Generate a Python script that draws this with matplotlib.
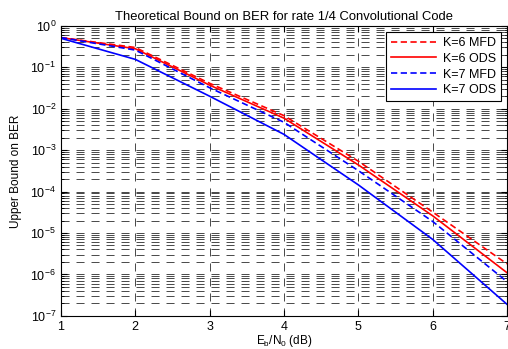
import matplotlib
matplotlib.use('Agg')
import matplotlib.pyplot as plt
from matplotlib.ticker import LogLocator, NullFormatter

# Eb/N0 (dB)
ebno = [1, 2, 3, 4, 5, 6, 7]

# upper bound on BER
k6_mfd = [0.52, 0.30, 0.041, 0.0068, 5.4e-4, 3.2e-5, 1.8e-6]
k6_ods = [0.52, 0.28, 0.037, 0.0059, 4.4e-4, 2.6e-5, 1.1e-6]
k7_mfd = [0.52, 0.26, 0.032, 0.0047, 3.2e-4, 1.9e-5, 6.7e-7]
k7_ods = [0.50, 0.155, 0.020, 0.0024, 1.45e-4, 7.0e-6, 1.9e-7]

plt.rcParams['font.family'] = ['Liberation Sans', 'DejaVu Sans']
plt.rcParams['mathtext.fontset'] = 'custom'
plt.rcParams['mathtext.rm'] = 'Liberation Sans'
plt.rcParams['mathtext.it'] = 'Liberation Sans'
plt.rcParams['lines.scale_dashes'] = False

fig = plt.figure(figsize=(5.08, 3.49), dpi=100)
ax = fig.add_axes([0.120, 0.095, 0.878, 0.831])

ax.semilogy(ebno, k6_mfd, color='red', ls=(0, (4.5, 2.5)), lw=1.2, label='K=6 MFD')
ax.semilogy(ebno, k6_ods, color='red', ls='-', lw=1.2, label='K=6 ODS')
ax.semilogy(ebno, k7_mfd, color='blue', ls=(0, (4.5, 2.5)), lw=1.2, label='K=7 MFD')
ax.semilogy(ebno, k7_ods, color='blue', ls='-', lw=1.2, label='K=7 ODS')

ax.set_xlim(1, 7)
ax.set_ylim(1e-7, 1)
ax.set_xticks(ebno)
ax.yaxis.set_major_locator(LogLocator(base=10, numticks=10))
ax.yaxis.set_minor_locator(LogLocator(base=10, subs=range(2, 10), numticks=10))
ax.yaxis.set_minor_formatter(NullFormatter())

# matlab-style grid
gstyle = dict(color='black', lw=0.5, ls=(0, (5.8, 5)))
ax.grid(True, which='major', **gstyle)
ax.grid(True, which='minor', axis='y', **gstyle)

ax.tick_params(which='both', direction='in', top=True, right=True, labelsize=9)
ax.tick_params(which='major', length=4)
ax.tick_params(which='minor', length=2)
for s in ax.spines.values():
    s.set_linewidth(0.8)

ax.set_title('Theoretical Bound on BER for rate 1/4 Convolutional Code', fontsize=9.4, pad=4)
ax.set_xlabel(r'E$_\mathrm{b}$/N$_\mathrm{0}$ (dB)', fontsize=8.5, labelpad=0.5)
ax.set_ylabel('Upper Bound on BER', fontsize=8.5, labelpad=6)

leg = ax.legend(loc='upper right', fontsize=9, fancybox=False, framealpha=1,
                edgecolor='black', handlelength=3.6, borderaxespad=0.5,
                labelspacing=0.3, handletextpad=0.5, borderpad=0.4)
leg.get_frame().set_linewidth(0.8)

plt.savefig('out.png', dpi=100)
plt.close()
